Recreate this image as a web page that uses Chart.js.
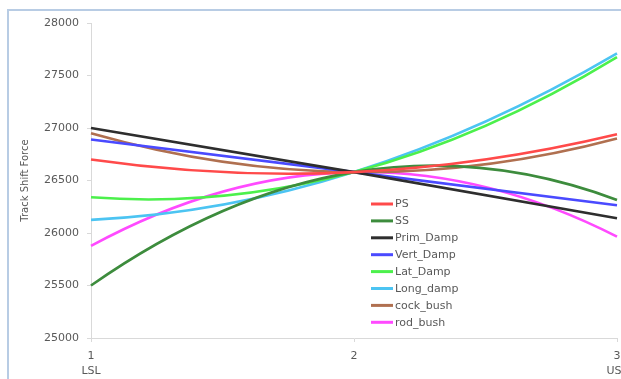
<!DOCTYPE html>
<html>
<head>
<meta charset="utf-8">
<script src="https://cdn.jsdelivr.net/npm/chart.js@4/dist/chart.umd.min.js"></script>
<style>
  html, body { margin: 0; padding: 0; background: #fff; overflow: hidden; width: 621px; height: 379px; }
  #frame { position: absolute; left: 7px; top: 9px; width: 700px; height: 500px; border: 2px solid #b8cce4; box-sizing: border-box; }
  #c { position: absolute; left: 0; top: 0; }
</style>
</head>
<body>
<div id="frame"></div>
<canvas id="c" width="680" height="420" style="width:680px;height:420px"></canvas>
<script>
// ---- data ----
const categories = ["1", "2", "3"];
const subLabels = ["LSL", "", "USL"];
const seriesNames = ["PS", "SS", "Prim_Damp", "Vert_Damp", "Lat_Damp", "Long_damp", "cock_bush", "rod_bush"];
const PS        = [26700, 26580, 26940];
const SS        = [25500, 26580, 26315];
const Prim_Damp = [27000, 26580, 26140];
const Vert_Damp = [26890, 26580, 26265];
const Lat_Damp  = [26340, 26580, 27675];
const Long_damp = [26125, 26580, 27710];
const cock_bush = [26950, 26580, 26900];
const rod_bush  = [25877, 26580, 25965];
const yTicks = [25000, 25500, 26000, 26500, 27000, 27500, 28000];
const yTitle = "Track Shift Force";

const seriesValues = [PS, SS, Prim_Damp, Vert_Damp, Lat_Damp, Long_damp, cock_bush, rod_bush];
const colors = ["#ff4a4a", "#3d8c3d", "#2e2e2e", "#4a4aff", "#4cf04c", "#4cc4f2", "#b07050", "#ff4aff"];

const labels = categories.map((c, i) => subLabels[i] ? [c, subLabels[i]] : [c]);
const FONT = "'DejaVu Sans', sans-serif";
const TXT = "#595959";

// Smooth each 3-point series as a single parabola through its points
// (control points derived from the library-placed point elements).
const parabolaSmooth = {
  id: 'parabolaSmooth',
  beforeDatasetDraw(chart, args) {
    const meta = args.meta;
    const line = meta.dataset;
    const pts = meta.data;
    if (!line || pts.length !== 3) return;
    line.updateControlPoints(chart.chartArea, 'x');
    const [a, b, c] = pts;
    const h1 = b.x - a.x, h2 = c.x - b.x;
    const h = (h1 + h2) / 2;
    const s0 = (-3 * a.y + 4 * b.y - c.y) / (2 * h);
    const s1 = (c.y - a.y) / (2 * h);
    const s2 = (a.y - 4 * b.y + 3 * c.y) / (2 * h);
    a.cp2x = a.x + h1 / 3; a.cp2y = a.y + s0 * h1 / 3;
    b.cp1x = b.x - h1 / 3; b.cp1y = b.y - s1 * h1 / 3;
    b.cp2x = b.x + h2 / 3; b.cp2y = b.y + s1 * h2 / 3;
    c.cp1x = c.x - h2 / 3; c.cp1y = c.y - s2 * h2 / 3;
  }
};

const legendPlugin = {
  id: 'insideLegend',
  afterDatasetsDraw(chart) {
    const ctx = chart.ctx;
    ctx.save();
    ctx.font = "11px " + FONT;
    ctx.textBaseline = "middle";
    ctx.textAlign = "left";
    chart.data.datasets.forEach((ds, i) => {
      const y = 204 + i * 16.9;
      ctx.strokeStyle = ds.borderColor;
      ctx.lineWidth = 3;
      ctx.beginPath();
      ctx.moveTo(371, y);
      ctx.lineTo(393, y);
      ctx.stroke();
      ctx.fillStyle = TXT;
      ctx.fillText(ds.label, 395, y + 0.5);
    });
    ctx.restore();
  }
};

new Chart(document.getElementById('c'), {
  type: 'line',
  data: {
    labels: labels,
    datasets: seriesNames.map((n, i) => ({
      label: n,
      data: seriesValues[i],
      borderColor: colors[i],
      backgroundColor: colors[i],
      borderWidth: 2.6,
      pointRadius: 0,
      tension: 0.33,
      fill: false
    }))
  },
  options: {
    responsive: false,
    animation: false,
    devicePixelRatio: 1,
    layout: { padding: { left: 8, top: 23, right: 63, bottom: 0 } },
    plugins: { legend: { display: false }, tooltip: { enabled: false } },
    scales: {
      x: {
        type: 'category',
        offset: false,
        grid: { display: true, drawOnChartArea: false, drawTicks: true, tickLength: 4, color: '#d9d9d9' },
        border: { color: '#d9d9d9', width: 1 },
        ticks: { color: TXT, font: { family: FONT, size: 11, lineHeight: 1.35 }, padding: 7, maxRotation: 0, autoSkip: false },
        afterFit(scale) { scale.height = 82; }
      },
      y: {
        min: 25000, max: 28000,
        afterBuildTicks(scale) { scale.ticks = yTicks.map(v => ({ value: v })); },
        grid: { display: true, drawOnChartArea: false, drawTicks: true, tickLength: 4, color: '#d9d9d9' },
        border: { color: '#d9d9d9', width: 1 },
        ticks: { color: TXT, font: { family: FONT, size: 11 }, padding: 8, callback: (v) => String(v) },
        title: { display: true, text: yTitle, color: TXT, font: { family: FONT, size: 10 }, padding: { top: 11, bottom: 0 } },
        afterFit(scale) { scale.width = 83; }
      }
    }
  },
  plugins: [parabolaSmooth, legendPlugin]
});
</script>
</body>
</html>
